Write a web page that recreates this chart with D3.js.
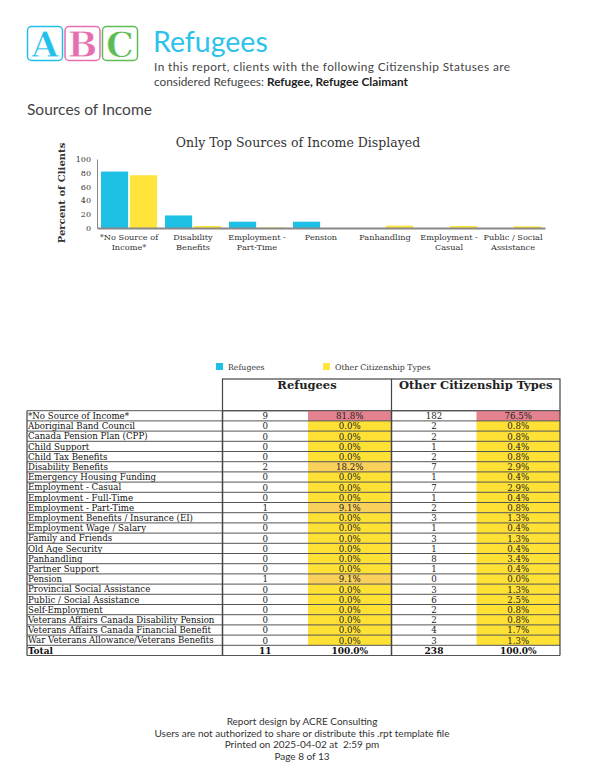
<!DOCTYPE html>
<html><head><meta charset="utf-8">
<script src="https://cdn.jsdelivr.net/npm/d3@7"></script>
<style>body{margin:0;background:#fff}svg{display:block}</style>
</head><body><svg id="c" width="604" height="781"></svg>
<script>
// ---- chart data ----
const chartCategories = [["*No Source of","Income*"],["Disability","Benefits"],["Employment -","Part-Time"],["Pension"],["Panhandling"],["Employment -","Casual"],["Public / Social","Assistance"]];
const chartRefugees = [81.8, 18.2, 9.1, 9.1, 0, 0, 0];
const chartOther = [76.5, 2.9, 0.8, 0.0, 3.4, 2.9, 2.5];
const yTicks = [0, 20, 40, 60, 80, 100];
const seriesNames = ["Refugees", "Other Citizenship Types"];
// ---- table data ----
const rowLabels = ["*No Source of Income*","Aboriginal Band Council","Canada Pension Plan (CPP)","Child Support","Child Tax Benefits","Disability Benefits","Emergency Housing Funding","Employment - Casual","Employment - Full-Time","Employment - Part-Time","Employment Benefits / Insurance (EI)","Employment Wage / Salary","Family and Friends","Old Age Security","Panhandling","Partner Support","Pension","Provincial Social Assistance","Public / Social Assistance","Self-Employment","Veterans Affairs Canada  Disability Pension","Veterans Affairs Canada Financial Benefit","War Veterans Allowance/Veterans Benefits"];
const refCounts = [9,0,0,0,0,2,0,0,0,1,0,0,0,0,0,0,1,0,0,0,0,0,0];
const refPct = [81.8,0,0,0,0,18.2,0,0,0,9.1,0,0,0,0,0,0,9.1,0,0,0,0,0,0];
const othCounts = [182,2,2,1,2,7,1,7,1,2,3,1,3,1,8,1,0,3,6,2,2,4,3];
const othPct = [76.5,0.8,0.8,0.4,0.8,2.9,0.4,2.9,0.4,0.8,1.3,0.4,1.3,0.4,3.4,0.4,0.0,1.3,2.5,0.8,0.8,1.7,1.3];
const totals = ["Total", 11, "100.0%", 238, "100.0%"];

const svg = d3.select("#c");
svg.append("rect").attr("width",604).attr("height",781).attr("fill","#fff");
const SERIF = "Georgia, 'DejaVu Serif', serif";
const TSERIF = "'DejaVu Serif Condensed', 'Liberation Serif', serif";
const SANS = "Lato, 'Open Sans', sans-serif";

// ---- logo ----
const logo = [{t:"A",c:"#22bfe8"},{t:"B",c:"#e56fae"},{t:"C",c:"#5cbd55"}];
logo.forEach((d,i)=>{
  const x = 27 + i*37.5;
  svg.append("rect").attr("x",x+0.5).attr("y",26.5).attr("width",35).attr("height",34).attr("rx",4)
    .attr("fill","#fff").attr("stroke",d.c).attr("stroke-width",1.5);
  svg.append("text").attr("x",x+18).attr("y",56.5).attr("text-anchor","middle")
    .attr("font-family","'DejaVu Serif', serif").attr("font-weight","bold").attr("font-size",35)
    .attr("fill",d.c).attr("stroke","#fff").attr("stroke-width",0.8).text(d.t);
});
svg.append("text").attr("x",153).attr("y",52).attr("font-family",SANS).attr("font-size",28.5)
  .attr("fill","#2dc2ec").text("Refugees");
svg.append("text").attr("x",154).attr("y",71).attr("font-family",SANS).attr("font-size",11.8)
  .attr("fill","#444").attr("textLength",356).text("In this report, clients with the following Citizenship Statuses are");
const st = svg.append("text").attr("x",154).attr("y",85.5).attr("font-family",SANS).attr("font-size",11.8).attr("fill","#444");
st.append("tspan").text("considered Refugees: ");
st.append("tspan").attr("font-weight","bold").attr("fill","#222").text("Refugee, Refugee Claimant");
svg.append("text").attr("x",27).attr("y",115).attr("font-family",SANS).attr("font-size",15.5)
  .attr("fill","#444").text("Sources of Income");

// ---- bar chart ----
const x0 = d3.scaleBand().domain(d3.range(chartCategories.length)).range([97,545]).paddingInner(0.125).paddingOuter(0.0625);
const x1 = d3.scaleBand().domain([0,1]).range([0,x0.bandwidth()]).paddingInner(0.06);
const y = d3.scaleLinear().domain([0,100]).range([228,159]);
const colors = ["#1ec0e6","#ffe53b"];

svg.append("text").attr("x",298).attr("y",147).attr("text-anchor","middle").attr("font-family",SERIF)
  .attr("font-size",12.5).attr("fill","#333").text("Only Top Sources of Income Displayed");
svg.append("text").attr("transform","translate(65,193) rotate(-90)").attr("text-anchor","middle")
  .attr("font-family",SERIF).attr("font-weight","bold").attr("font-size",10).attr("fill","#333").text("Percent of Clients");

const yAxis = svg.append("g").attr("transform","translate(97,0)")
  .call(d3.axisLeft(y).tickValues(yTicks).tickSize(0).tickPadding(6));
yAxis.select(".domain").attr("stroke","#888").attr("stroke-width",1);
yAxis.selectAll("text").attr("font-family",SERIF).attr("font-size",8).attr("fill","#333");

const groups = svg.append("g").selectAll("g").data(chartCategories).join("g")
  .attr("transform",(d,i)=>`translate(${x0(i)},0)`);
groups.each(function(d,i){
  const vals = [chartRefugees[i], chartOther[i]];
  d3.select(this).selectAll("rect").data(vals).join("rect")
    .attr("x",(v,j)=>x1(j)).attr("width",x1.bandwidth())
    .attr("y",v=>y(v)).attr("height",v=>y(0)-y(v)).attr("fill",(v,j)=>colors[j]);
});
const xAxis = svg.append("g").attr("transform","translate(0,228)")
  .call(d3.axisBottom(x0).tickSize(0).tickFormat(""));
xAxis.select(".domain").attr("stroke","#888").attr("stroke-width",2);
xAxis.selectAll(".tick").each(function(i){
  const t = d3.select(this).append("text").attr("text-anchor","middle").attr("font-family",SERIF)
    .attr("font-size",8.2).attr("fill","#333");
  chartCategories[i].forEach((line,k)=>t.append("tspan").attr("x",0).attr("y",12+k*9.5).text(line));
});

// legend
seriesNames.forEach((s,i)=>{
  const lx = [216,323][i];
  svg.append("rect").attr("x",lx).attr("y",363).attr("width",7).attr("height",7).attr("fill",colors[i]);
  svg.append("text").attr("x",lx+12).attr("y",370).attr("font-family",SERIF).attr("font-size",7.8)
    .attr("fill","#333").text(s);
});

// ---- table ----
const colX = [27, 222.5, 308, 391.5, 476.5, 560];
const top0 = 410.7, rh = 10.2, hTop = 379;
const rowY = d3.scaleLinear().domain([0,1]).range([top0, top0+rh]);
const fillFor = v => v >= 50 ? "#e4838f" : (v >= 5 ? "#f9d05a" : "#ffe135");
const tbl = svg.append("g");
// header
tbl.append("rect").attr("x",colX[1]).attr("y",hTop).attr("width",colX[5]-colX[1]).attr("height",top0-hTop)
  .attr("fill","none").attr("stroke","#444").attr("stroke-width",1.2);
tbl.append("line").attr("x1",colX[3]).attr("x2",colX[3]).attr("y1",hTop).attr("y2",top0).attr("stroke","#444").attr("stroke-width",1.2);
[["Refugees",(colX[1]+colX[3])/2],["Other Citizenship Types",(colX[3]+colX[5])/2]].forEach(h=>{
  tbl.append("text").attr("x",h[1]).attr("y",hTop+10).attr("text-anchor","middle").attr("font-family",SERIF)
    .attr("font-weight","bold").attr("font-size",11.5).attr("fill","#222").text(h[0]);
});
const rows = rowLabels.map((l,i)=>[l, refCounts[i], refPct[i], othCounts[i], othPct[i]]);
rows.forEach((r,i)=>{
  const yt = rowY(i);
  [[2,colX[2],colX[3]],[4,colX[4],colX[5]]].forEach(c=>{
    tbl.append("rect").attr("x",c[1]).attr("y",yt).attr("width",c[2]-c[1]).attr("height",rh).attr("fill",fillFor(r[c[0]]));
  });
  tbl.append("text").attr("x",28).attr("y",yt+8.3).attr("font-family",TSERIF).attr("font-size",9.6).attr("fill","#111").text(r[0]);
  [[1,r[1]],[2,r[2].toFixed(1)+"%"],[3,r[3]],[4,r[4].toFixed(1)+"%"]].forEach(c=>{
    tbl.append("text").attr("x",(colX[c[0]]+colX[c[0]+1])/2).attr("y",yt+8.5).attr("text-anchor","middle")
      .attr("font-family",TSERIF).attr("font-size",9.6).attr("fill","#222").text(c[1]);
  });
});
// total row
const yTot = rowY(rows.length);
totals.forEach((t,k)=>{
  tbl.append("text").attr("x",k===0?28:(colX[k]+colX[k+1])/2).attr("y",yTot+8.5)
    .attr("text-anchor",k===0?"start":"middle").attr("font-family",TSERIF).attr("font-weight","bold")
    .attr("font-size",10).attr("fill","#111").text(t);
});
const yEnd = rowY(rows.length+1);
// grid lines
d3.range(rows.length+2).forEach(i=>{
  tbl.append("line").attr("x1",colX[0]).attr("x2",colX[5]).attr("y1",rowY(i)).attr("y2",rowY(i))
    .attr("stroke","#555").attr("stroke-width",1);
});
[0,1,3,5].forEach(k=>{
  tbl.append("line").attr("x1",colX[k]).attr("x2",colX[k]).attr("y1",top0).attr("y2",yEnd)
    .attr("stroke","#444").attr("stroke-width",k===1||k===3?1.5:1.2);
});

// ---- footer ----
["Report design by ACRE Consulting","Users are not authorized to share or distribute this .rpt template file","Printed on 2025-04-02 at  2:59 pm","Page 8 of 13"].forEach((t,i)=>{
  svg.append("text").attr("x",302).attr("y",725+i*11.5).attr("text-anchor","middle").attr("font-family",SANS)
    .attr("font-size",10).attr("fill","#333").style("white-space","pre").text(t);
});
</script></body></html>
